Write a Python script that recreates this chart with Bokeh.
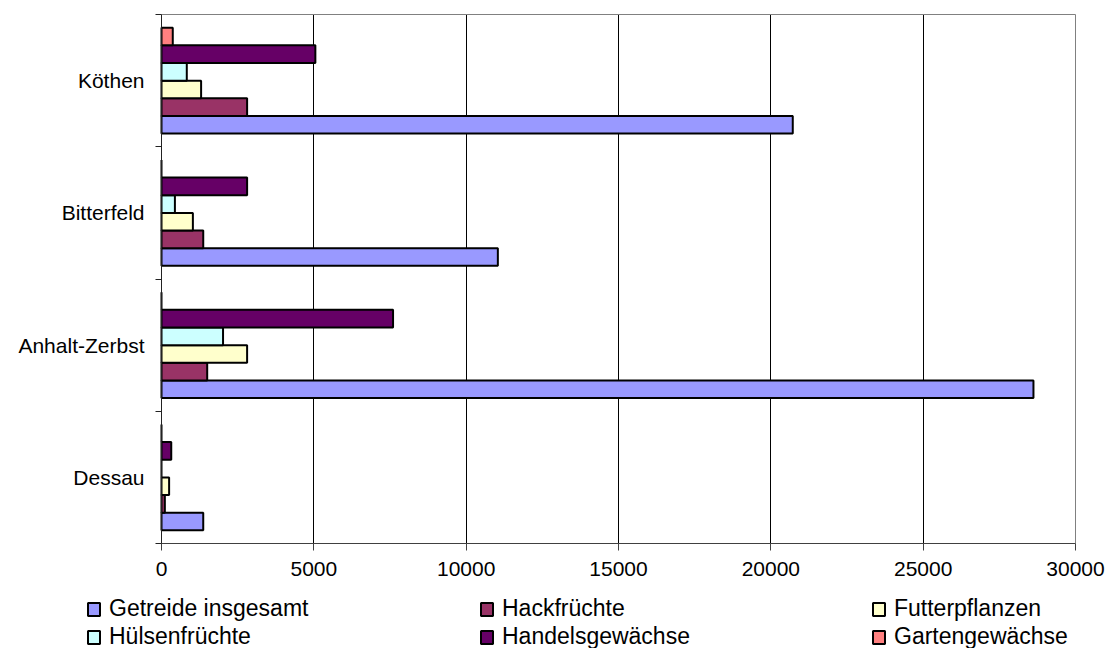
from bokeh.plotting import figure
from bokeh.models import (FixedTicker, Legend, LegendItem, ColumnDataSource,
                          Grid, Range1d)
from bokeh.embed import file_html
from bokeh.resources import INLINE

# Districts (bottom to top) and cultivated area per crop group
districts = ["Dessau", "Anhalt-Zerbst", "Bitterfeld", "Köthen"]

getreide = [1370, 28620, 11040, 20720]
hackfruechte = [110, 1500, 1370, 2810]
futterpflanzen = [250, 2810, 1030, 1300]
huelsenfruechte = [0, 2020, 440, 830]
handelsgewaechse = [320, 7600, 2810, 5050]
gartengewaechse = [0, 0, 0, 370]

series_names = ["Getreide insgesamt", "Hackfrüchte", "Futterpflanzen",
                "Hülsenfrüchte", "Handelsgewächse", "Gartengewächse"]
series_values = [getreide, hackfruechte, futterpflanzen,
                 huelsenfruechte, handelsgewaechse, gartengewaechse]
series_colors = ["#9999FF", "#993366", "#FFFFCC", "#CCFFFF", "#660066", "#FF8080"]

x_ticks = [0, 5000, 10000, 15000, 20000, 25000, 30000]

FONT = "Liberation Sans"

# The frame covers the whole canvas; both axes are pinned at 0 so that the
# tick labels and the legend are drawn inside it.
W, H = 1107, 648
PLOT_LEFT, PLOT_RIGHT = 161, 1075      # pixel columns of x = 0 and x = 30000
PLOT_TOP, PLOT_BOTTOM = 14, 543        # pixel rows of the top and bottom edge
x_max = x_ticks[-1]
n_cat = len(districts)
px_x = (PLOT_RIGHT - PLOT_LEFT) / x_max
px_y = (PLOT_BOTTOM - PLOT_TOP) / n_cat

p = figure(width=W, height=H, output_backend="svg", toolbar_location=None,
           x_range=Range1d(-PLOT_LEFT / px_x, x_max + (W - PLOT_RIGHT) / px_x),
           y_range=Range1d(-(H - PLOT_BOTTOM) / px_y, n_cat + PLOT_TOP / px_y),
           min_border_left=0, min_border_right=0, min_border_top=0,
           min_border_bottom=0)
p.background_fill_color = "white"
p.border_fill_color = "white"
p.outline_line_color = None

# Clustered bars: 6 bars per district, gap of 1.5 bar widths
n = len(series_names)
bar_h = 1.0 / (n + 1.5)
gap = 1.5 * bar_h / 2
renderers = []
for i, (name, vals, col) in enumerate(zip(series_names, series_values, series_colors)):
    ys = [k + gap + (i + 0.5) * bar_h for k in range(n_cat)]
    src = ColumnDataSource(dict(y=ys, right=vals))
    r = p.hbar(y="y", left=0, right="right", height=bar_h, source=src,
               fill_color=col, line_color="black", line_width=2)
    renderers.append(r)

# Grid lines and plot-area border (top and right), limited to the plot area
p.ygrid.visible = False
p.xgrid.ticker = FixedTicker(ticks=x_ticks[1:-1])
p.xgrid.grid_line_color = "black"
p.xgrid.grid_line_width = 1
p.xgrid.cross_bounds = (0, n_cat)
p.xgrid.level = "underlay"

right_edge = Grid(dimension=0, ticker=FixedTicker(ticks=[x_max]),
                  cross_bounds=(0, n_cat), grid_line_color="#808080")
top_edge = Grid(dimension=1, ticker=FixedTicker(ticks=[n_cat]),
                cross_bounds=(0, x_max), grid_line_color="#808080")
p.add_layout(right_edge)
p.add_layout(top_edge)

# X axis at y = 0
xa = p.xaxis[0]
xa.fixed_location = 0
xa.bounds = (0, x_max)
xa.ticker = FixedTicker(ticks=x_ticks)
xa.major_label_overrides = {t: str(t) for t in x_ticks}
xa.axis_line_color = "#404040"
xa.major_tick_line_color = "#404040"
xa.major_tick_in = 0
xa.major_tick_out = 7
xa.minor_tick_line_color = None
xa.major_label_standoff = 11
xa.major_label_text_font = FONT
xa.major_label_text_font_size = "21px"
xa.major_label_text_color = "black"

# Y axis at x = 0: labels at district centres, tick marks on district boundaries
ya = p.yaxis[0]
ya.fixed_location = 0
centers = [k + 0.5 for k in range(n_cat)]
bounds = list(range(n_cat + 1))
ya.bounds = (0, n_cat)
ya.ticker = FixedTicker(ticks=centers, minor_ticks=bounds)
ya.major_label_overrides = {c: d for c, d in zip(centers, districts)}
ya.axis_line_color = "#222222"
ya.major_tick_line_color = None
ya.major_tick_in = 0
ya.major_tick_out = 0
ya.minor_tick_line_color = "#222222"
ya.minor_tick_in = 0
ya.minor_tick_out = 6
ya.major_label_standoff = 11
ya.major_label_text_font = FONT
ya.major_label_text_font_size = "21px"
ya.major_label_text_color = "black"

# Legend: three columns of two entries below the axis
columns = [(0, 3, 86), (1, 4, 479), (2, 5, 871)]
for a, b, xpos in columns:
    leg = Legend(items=[LegendItem(label=series_names[a], renderers=[renderers[a]]),
                        LegendItem(label=series_names[b], renderers=[renderers[b]])],
                 location=(xpos, -2))
    leg.background_fill_alpha = 0
    leg.border_line_color = None
    leg.padding = 0
    leg.margin = 0
    leg.spacing = 1
    leg.glyph_width = 15
    leg.glyph_height = 16
    leg.label_standoff = 8
    leg.label_text_font = FONT
    leg.label_text_font_size = "23px"
    leg.label_text_color = "black"
    p.add_layout(leg, "center")

open("out.html", "w").write(file_html(p, INLINE))
